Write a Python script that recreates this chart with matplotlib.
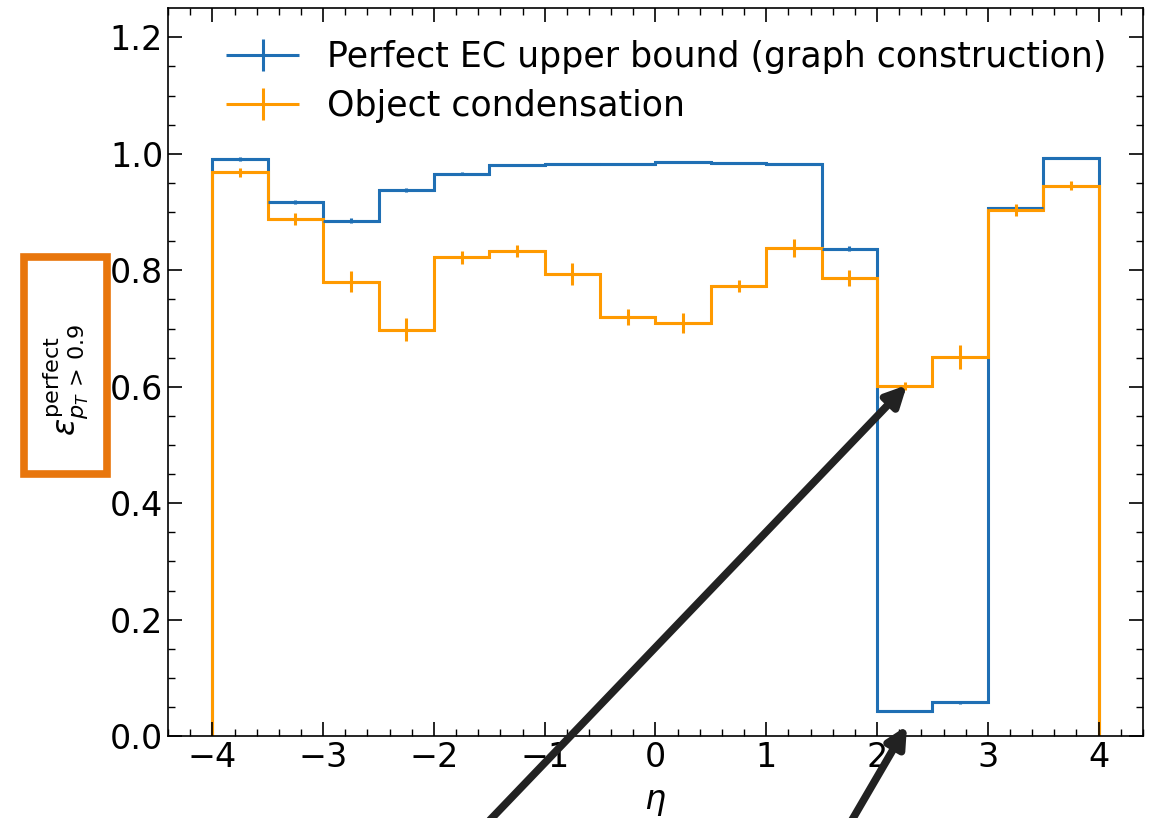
import numpy as np
import matplotlib
matplotlib.use('Agg')
import matplotlib.pyplot as plt
from matplotlib.patches import Rectangle
from matplotlib.legend_handler import HandlerErrorbar

# bin edges in eta
EDGES = np.arange(-4, 4.01, 0.5)

# Perfect EC upper bound (graph construction)
EC_VAL = [0.991, 0.917, 0.885, 0.938, 0.966, 0.981, 0.983, 0.983,
          0.986, 0.984, 0.982, 0.837, 0.043, 0.058, 0.907, 0.993]
EC_ERR = [0.003, 0.004, 0.004, 0.003, 0.003, 0.002, 0.002, 0.002,
          0.002, 0.002, 0.002, 0.004, 0.002, 0.002, 0.003, 0.002]

# Object condensation
OC_VAL = [0.968, 0.888, 0.780, 0.698, 0.822, 0.833, 0.793, 0.720,
          0.709, 0.773, 0.838, 0.787, 0.602, 0.651, 0.903, 0.945]
OC_ERR = [0.008, 0.011, 0.018, 0.020, 0.011, 0.010, 0.019, 0.014,
          0.017, 0.011, 0.015, 0.014, 0.007, 0.021, 0.010, 0.008]

BLAUW = '#1f6fb4'
ORANJE = '#ff9a00'

plt.rcParams['font.family'] = 'DejaVu Sans'
fig = plt.figure(figsize=(11.51, 8.18), dpi=100)
ax = fig.add_axes([0.146, 0.100, 0.847, 0.890])

centers = 0.5 * (EDGES[:-1] + EDGES[1:])
halfw = 0.5 * np.diff(EDGES)

# stappen (met de randen naar 0)
ax.stairs(EC_VAL, EDGES, color=BLAUW, lw=2.2, baseline=0)
ax.errorbar(centers, EC_VAL, yerr=EC_ERR, xerr=halfw, fmt='none',
            ecolor=BLAUW, elinewidth=2.2, label='Perfect EC upper bound (graph construction)')
ax.stairs(OC_VAL, EDGES, color=ORANJE, lw=2.2, baseline=0)
ax.errorbar(centers, OC_VAL, yerr=OC_ERR, xerr=halfw, fmt='none',
            ecolor=ORANJE, elinewidth=2.2, label='Object condensation')

ax.set_xlim(-4.4, 4.4)
ax.set_ylim(0, 1.25)
ax.set_xticks(np.arange(-4, 4.1, 1))
ax.set_xticks(np.arange(-4.4, 4.41, 0.2), minor=True)
ax.set_yticks(np.arange(0, 1.21, 0.2))
ax.set_yticks(np.arange(0, 1.25, 0.05), minor=True)
ax.tick_params(which='both', direction='in', top=True, right=True, labelsize=24)
ax.tick_params(which='major', length=10, width=1.2)
ax.tick_params(which='minor', length=5, width=1.0)
for s in ax.spines.values():
    s.set_linewidth(1.2)

ax.set_xlabel(r'$\eta$', fontsize=24, labelpad=8)
ax.set_ylabel(r'$\epsilon_{p_T\,>\,0.9}^{\mathrm{perfect}}$', fontsize=23)
ax.yaxis.set_label_coords(-0.080, 0.49)

ax.legend(loc='upper left', frameon=False, fontsize=25, handlelength=2.1,
          handletextpad=0.8, borderaxespad=0, borderpad=0.4, labelspacing=0.43,
          bbox_to_anchor=(0.0455, 0.975),
          handler_map={type(ax.containers[0]): HandlerErrorbar(xerr_size=1.05, yerr_size=0.45)})

# oranje kader rond de y-label
fig.add_artist(Rectangle((24 / 1151, 1 - 474 / 818), 83 / 1151, 217 / 818,
                         transform=fig.transFigure, fill=False,
                         edgecolor='#e8760c', lw=5.5))

# pijlen
ax.annotate('', xy=(2.27, 0.603), xytext=(490, -2), textcoords='figure pixels',
            annotation_clip=False,
            arrowprops=dict(arrowstyle='-|>,head_length=1.2,head_width=0.6',
                            lw=5.5, color='#222222', shrinkA=0, shrinkB=0))
ax.annotate('', xy=(2.27, 0.018), xytext=(852, -2), textcoords='figure pixels',
            annotation_clip=False,
            arrowprops=dict(arrowstyle='-|>,head_length=1.2,head_width=0.6',
                            lw=5.5, color='#222222', shrinkA=0, shrinkB=0))

plt.savefig('out.png', dpi=100)
